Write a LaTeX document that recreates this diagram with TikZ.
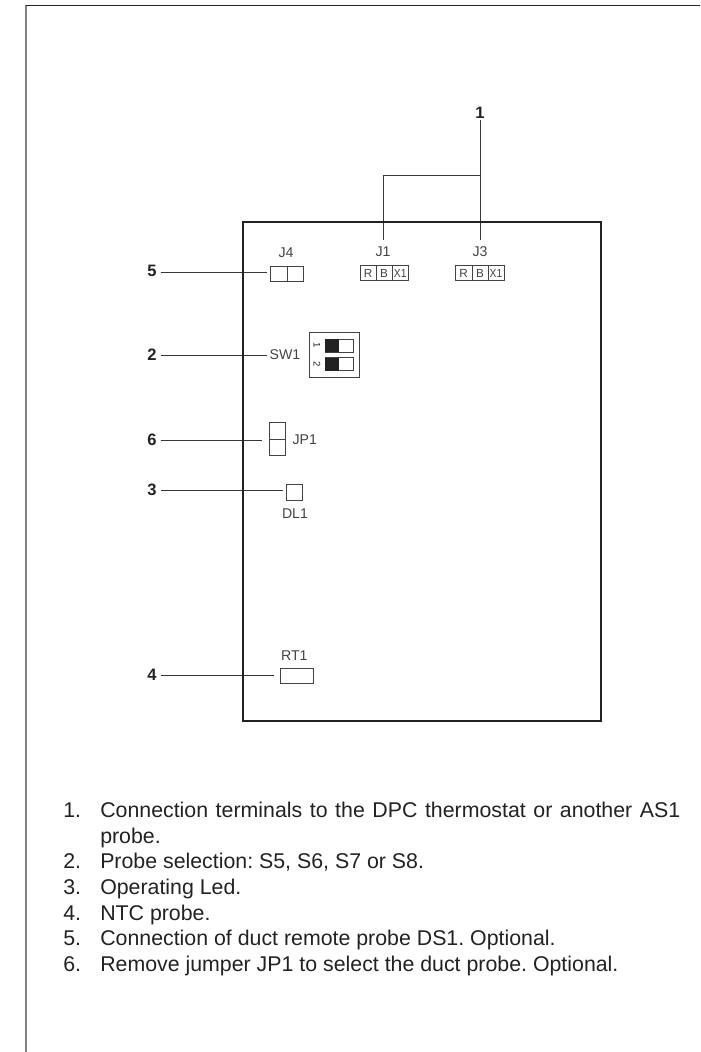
\documentclass[tikz,border=0pt]{standalone}
\usepackage{fontspec}
\setmainfont{Liberation Sans}
\frenchspacing
\definecolor{ink}{HTML}{222222}
\newcommand{\fs}[1]{\fontsize{#1pt}{#1pt}\selectfont}
\tikzset{
  x=0.75pt,y=-0.75pt,
  leader/.style={draw=ink!90,line width=0.75pt},
  board/.style={draw=ink,line width=1.2pt},
  part/.style={draw=ink!85,line width=0.7pt,fill=white},
  callout/.style={inner sep=0pt,text=ink,font=\fs{12.4}\bfseries},
  tag/.style={inner sep=0pt,text=ink!85,font=\fs{10.6}},
  cell/.style={inner sep=0pt,text=ink!85,font=\fs{8.8}},
  item/.style={anchor=base west,inner sep=0pt,text=ink,font=\fs{16}},
  dipnum/.style={inner sep=0pt,text=ink,font=\fs{7.2},rotate=-90},
}
\begin{document}
\begin{tikzpicture}
\useasboundingbox (0,0) rectangle (700,1052);
% page frame
\draw[draw=black!50,line width=1.5pt] (25.5,5.5) -- (25.5,1052);
\draw[draw=ink,line width=0.75pt] (25.5,5.5) -- (700,5.5);
% callout numbers
\node[callout] (n1) at (480,113) {1};
\node[callout] (n5) at (152,271) {5};
\node[callout] (n2) at (152,355) {2};
\node[callout] (n6) at (152,440) {6};
\node[callout] (n3) at (152,489.5) {3};
\node[callout] (n4) at (152,675) {4};
% leaders
\coordinate (c1) at (480.5,120);
\coordinate (c1e) at (480.5,240);
\coordinate (c2) at (383,240);
\coordinate (c1b) at (480.5,175.7);
\coordinate (c2b) at (383,175.7);
\draw[leader] (c1) -- (c1e);
\draw[leader] (c2) -- (c2b) -- (c1b);
\coordinate (e5) at (266.7,272.3);
\coordinate (e2) at (266.7,355);
\coordinate (e6) at (262.3,440.7);
\coordinate (e3) at (282.7,490);
\coordinate (e4) at (274,675.3);
\draw[leader] (160.7,272.3) -- (e5);
\draw[leader] (160.7,355) -- (e2);
\draw[leader] (160.7,440.7) -- (e6);
\draw[leader] (160.7,490) -- (e3);
\draw[leader] (160.7,675.3) -- (e4);
% board
\draw[board] (243,222) rectangle (601,721);
% labels
\node[tag] (j1) at (383,252) {J1};
\node[tag] (j3) at (480,252) {J3};
\node[tag] (j4) at (286,252.5) {J4};
\node[tag] (sw1) at (285,355) {SW1};
\node[tag] (jp1) at (304.8,439.5) {JP1};
\node[tag] (dl1) at (295,514) {DL1};
\node[tag] (rt1) at (294.3,655.5) {RT1};
% terminals
\draw[part] (360,265) rectangle (408.3,280.7) (376,265) -- (376,280.7) (392,265) -- (392,280.7);
\node[cell] at (368,273) {R};
\node[cell] at (384,273) {B};
\node[cell,xscale=0.88] at (400.2,273) {X1};
\draw[part] (455.5,265) rectangle (504,280.7) (472,265) -- (472,280.7) (488,265) -- (488,280.7);
\node[cell] at (463.7,273) {R};
\node[cell] at (480,273) {B};
\node[cell,xscale=0.88] at (496,273) {X1};
% J4
\draw[part] (270.7,266) rectangle (303.3,281.7) (287,266) -- (287,281.7);
% SW1
\draw[part] (309.5,332) rectangle (359,377);
\draw[part] (325,339) rectangle (353.3,352.3);
\fill[ink] (325,339) rectangle (338.5,352.3);
\draw[part] (325,357.7) rectangle (353.3,370.7);
\fill[ink] (325,357.7) rectangle (338.5,370.7);
\node[dipnum] at (317,345.5) {1};
\node[dipnum] at (317,364.5) {2};
% JP1
\draw[part] (269,422.7) rectangle (285,455) (269,439) -- (285,439);
% DL1
\draw[part] (286.7,484) rectangle (302.3,500.7);
% RT1
\draw[part] (280.7,668.3) rectangle (313.3,683.3);
% list
\node[item] at (63,817.3) {1.};
\node[item] at (100,817.3) {\makebox[435pt][s]{Connection terminals to the DPC thermostat or another AS1}};
\node[item] at (100,843) {probe.};
\node[item] at (63,868.7) {2.};
\node[item] at (100,868.7) {Probe selection: S5, S6, S7 or S8.};
\node[item] at (63,894) {3.};
\node[item] at (100,894) {Operating Led.};
\node[item] at (63,920) {4.};
\node[item] at (100,920) {NTC probe.};
\node[item] at (63,945.5) {5.};
\node[item] at (100,945.5) {Connection of duct remote probe DS1. Optional.};
\node[item] at (63,971) {6.};
\node[item] at (100,971) {Remove jumper JP1 to select the duct probe. Optional.};
\end{tikzpicture}
\end{document}
